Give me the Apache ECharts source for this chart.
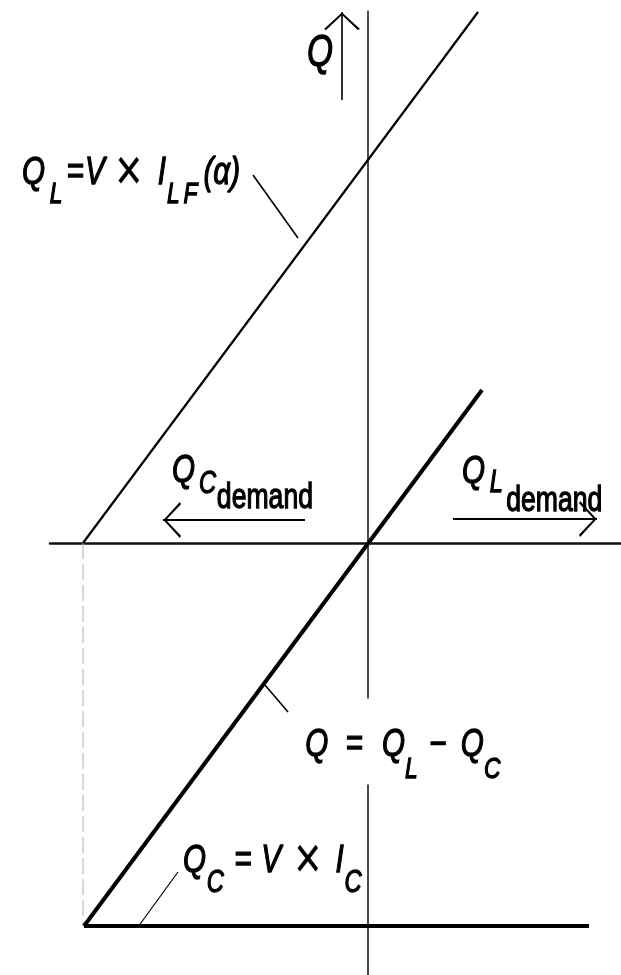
<!DOCTYPE html>
<html><head><meta charset="utf-8">
<script src="https://cdn.jsdelivr.net/npm/echarts@6/dist/echarts.min.js"></script>
<style>html,body{margin:0;padding:0;background:#fff}#c{width:621px;height:975px}</style>
</head><body><div id="c"></div>
<script>
// ---- data (schematic units, origin at axes crossing) ----
const qlLine = [[-2.85, 0], [1.10, 5.31]];        // Q_L = V x I_LF(alpha)
const qLine = [[-2.84, -3.83], [1.14, 1.53]];      // Q = Q_L - Q_C
const qcLine = [[-2.84, -3.83], [2.21, -3.83]];    // Q_C = V x I_C
const dropLine = [[-2.85, 0], [-2.85, -3.83]];     // dashed projection
const leaderQL = [[-1.15, 3.68], [-0.70, 3.05]];
const leaderQ = [[-1.03, -1.42], [-0.80, -1.69]];
const leaderQC = [[-1.90, -3.29], [-2.30, -3.84]];
const arrowQ = [[-0.26, 4.43], [-0.26, 5.31]];
const arrowQCdemand = [[-0.63, 0.23], [-2.05, 0.23]];
const arrowQLdemand = [[0.85, 0.24], [2.29, 0.24]];
const labelPos = [[-0.61, 4.89], [-3.46, 3.70], [-1.96, 0.72], [0.94, 0.71], [-0.65, -1.985], [-1.85, -3.18]];
const labelText = [
  '{a|Q}',
  '{a|Q}{b|L}{c|=}{d|V}{e|×}{f|I}{g|L}{k|F}{h|(α)}',
  '{a|Q}{b|C}{c|demand}',
  '{a|Q}{b|L}{c|demand}',
  '{a|Q}{b|=}{c|Q}{d|L}{e|−}{f|Q}{g|C}',
  '{a|Q}{b|C}{c|=}{d|V}{e|×}{f|I}{g|C}'
];

const F = "'Liberation Sans', Arial, sans-serif";
const INK = '#000';
const SX = 0.76;
const chevron = 'path://M50,-98 L50.1,-98 L50,-97.9 Z M50,0 L100,88 L94,94 L50,14 L6,94 L0,88 Z';

const base = {fill: INK, fontFamily: F, fontStyle: 'italic', stroke: INK, lineWidth: 1.3};
function tok(size, pt, pl, extra) {
  return Object.assign({}, base, {fontSize: size, padding: [pt || 0, 0, 0, pl || 0]}, extra || {});
}
const up = {fontStyle: 'normal'};
const cross = {fontStyle: 'normal', lineWidth: 0.2};
const M = 39, S = 30, D = 35, X = 60;
const richCfg = [
  {a: tok(44)},
  {a: tok(M), b: tok(S, 44, 6.3), c: tok(M, 0, 5.3), d: tok(M, 0, 1.6), e: tok(X, 0, 14, cross),
   f: tok(M, 0, 20.5), g: tok(S, 44, 1.3), k: tok(S, 44, 5), h: tok(M, 0, 8)},
  {a: tok(M), b: tok(31, 26, 5.3), c: tok(D, 54, 1, up)},
  {a: tok(M), b: tok(31, 23, 6.3), c: tok(D, 58, 4.2, up)},
  {a: tok(M), b: tok(M, 0, 22.6), c: tok(M, 0, 25.3), d: tok(S, 48, 0), e: tok(M, 0, 15.2),
   f: tok(M, 0, 18.7), g: tok(S, 48, 0)},
  {a: tok(M), b: tok(31, 45, 1), c: tok(M, 0, 13.7), d: tok(M, 0, 12.6), e: tok(X, 0, 18, cross),
   f: tok(M, 0, 18.8), g: tok(31, 45, 1)}
];

const lineSeries = (data, width, extra) => Object.assign({
  type: 'line', data: data, showSymbol: false, symbol: 'none', silent: true,
  lineStyle: {color: INK, width: width}, z: 3
}, extra || {});

const arrowSeries = (coords, width, size) => ({
  type: 'lines', coordinateSystem: 'cartesian2d', silent: true, z: 4,
  symbol: ['none', chevron], symbolSize: size,
  lineStyle: {color: INK, width: width, opacity: 1, curveness: 0},
  data: [{coords: coords}]
});

const chart = echarts.init(document.getElementById('c'), null, {renderer: 'canvas'});
chart.setOption({
  backgroundColor: '#fff',
  animation: false,
  grid: {left: 50, right: 0, top: 11, bottom: 0},
  xAxis: {type: 'value', min: -3.18, max: 2.53,
    axisLine: {show: true, onZero: true, lineStyle: {color: '#111', width: 2.5}},
    axisTick: {show: false}, axisLabel: {show: false}, splitLine: {show: false}},
  yAxis: {type: 'value', min: -4.32, max: 5.32,
    axisLine: {show: true, onZero: true, lineStyle: {color: '#111', width: 1.5}},
    axisTick: {show: false}, axisLabel: {show: false}, splitLine: {show: false}},
  series: [
    lineSeries(qlLine, 2.2),
    lineSeries(qLine, 4),
    lineSeries(qcLine, 4),
    lineSeries(dropLine, 1.2, {lineStyle: {color: '#bdbdbd', width: 1.2, type: [16, 5]}, z: 2}),
    lineSeries(leaderQL, 1.6),
    lineSeries(leaderQ, 1.6),
    lineSeries(leaderQC, 1.2),
    arrowSeries(arrowQ, 1.6, [13, 36]),
    arrowSeries(arrowQCdemand, 2.2, [15, 36]),
    arrowSeries(arrowQLdemand, 2.2, [15, 36]),
    {
      type: 'custom', silent: true, z: 6, clip: false,
      data: labelPos.map((p, i) => [p[0], p[1], i]),
      encode: {x: 0, y: 1},
      renderItem: function (params, api) {
        const i = api.value(2);
        const pt = api.coord([api.value(0), api.value(1)]);
        const style = {
          text: labelText[i], rich: richCfg[i], x: 0, y: 0,
          align: 'left', verticalAlign: 'middle',
          fill: INK, fontSize: M, fontFamily: F, fontStyle: 'italic'
        };
        if (i === 4) { style.backgroundColor = '#fff'; style.padding = [8, 3, 0, 3]; }
        return {type: 'text', x: pt[0], y: pt[1], scaleX: SX, silent: true, style: style};
      }
    }
  ]
});
</script></body></html>
